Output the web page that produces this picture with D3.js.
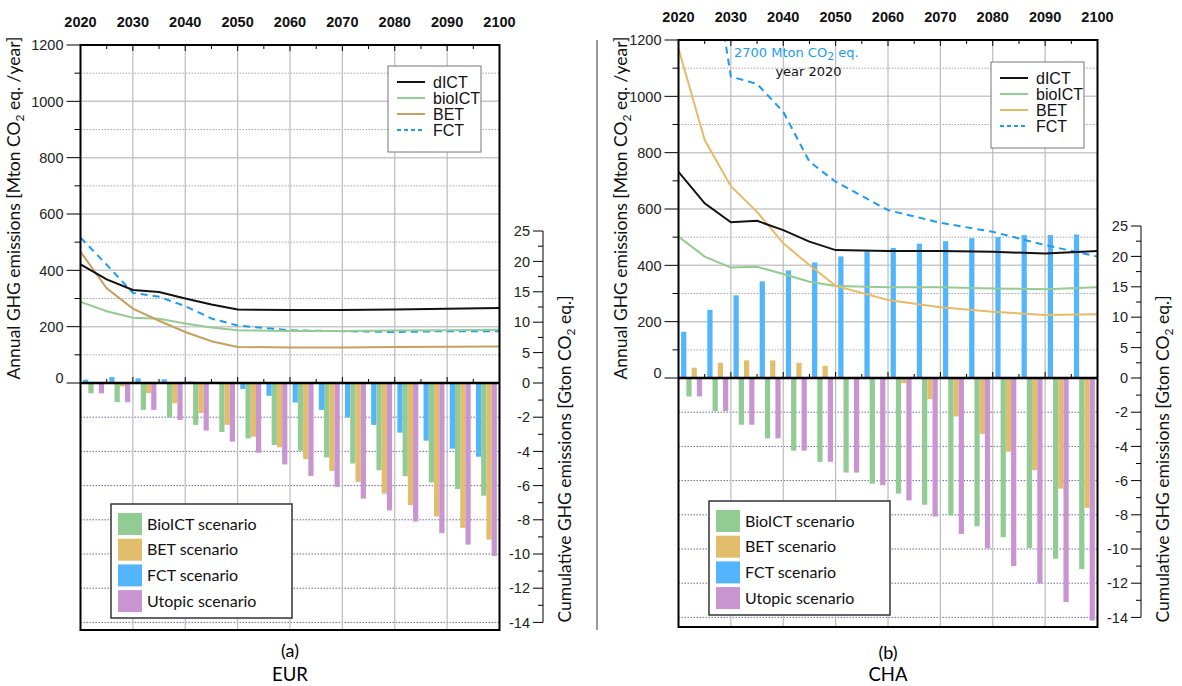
<!DOCTYPE html>
<html>
<head>
<meta charset="utf-8">
<script src="https://cdn.jsdelivr.net/npm/d3@7"></script>
<style>
  body { margin: 0; background: #fff; }
  text { font-family: "Liberation Sans", Arial, sans-serif; }
</style>
</head>
<body>
<svg id="chart" width="1182" height="686"></svg>
<script>
// annual emissions, Mton CO2 eq./year
var years = [2020, 2025, 2030, 2035, 2040, 2045, 2050, 2060, 2070, 2080, 2090, 2100];
var eurDICT   = [421, 368, 330, 323, 300, 279, 261, 259, 259, 261, 264, 266];
var eurBioICT = [288, 255, 232, 228, 211, 197, 187, 185, 185, 186, 187, 189];
var eurBET    = [466, 336, 264, 221, 181, 148, 128, 126, 126, 128, 129, 130];
var eurFCT    = [516, 420, 320, 306, 273, 229, 204, 187, 184, 181, 184, 184];
var chaDICT   = [732, 620, 553, 558, 525, 484, 454, 451, 451, 448, 442, 451];
var chaBioICT = [502, 431, 392, 395, 369, 342, 327, 322, 322, 318, 315, 322];
var chaBET    = [1170, 845, 681, 590, 478, 401, 327, 277, 251, 235, 224, 226];
var chaFCT    = [2700, 1660, 1070, 1044, 945, 768, 697, 596, 551, 519, 472, 431];

// cumulative emissions per 5-year period, Gton CO2 eq.
var periods = ["2025", "2030", "2035", "2040", "2045", "2050", "2055", "2060",
               "2065", "2070", "2075", "2080", "2085", "2090", "2095", "2100"];
var eurFctBars = [0.55, 1.0, 0.77, 0.6, 0.27, 0.05, -0.35, -0.75, -1.14, -1.57, -2.0, -2.45, -2.9, -3.37, -3.84, -4.31];
var eurBioBars = [-0.6, -1.12, -1.57, -2.02, -2.45, -2.86, -3.24, -3.63, -3.96, -4.35, -4.71, -5.1, -5.45, -5.82, -6.2, -6.59];
var eurBetBars = [-0.05, -0.2, -0.59, -1.18, -1.76, -2.45, -3.14, -3.76, -4.45, -5.14, -5.78, -6.47, -7.14, -7.8, -8.47, -9.16];
var eurUtoBars = [-0.6, -1.12, -1.57, -2.16, -2.78, -3.43, -4.08, -4.76, -5.43, -6.08, -6.76, -7.45, -8.1, -8.78, -9.45, -10.12];
var chaFctBars = [7.6, 11.2, 13.6, 15.9, 17.7, 19.0, 20.0, 20.8, 21.4, 22.1, 22.5, 23.0, 23.2, 23.5, 23.5, 23.6];
var chaBioBars = [-1.08, -1.94, -2.73, -3.53, -4.25, -4.9, -5.53, -6.18, -6.76, -7.41, -8.04, -8.67, -9.31, -9.94, -10.57, -11.18];
var chaBetBars = [1.7, 2.5, 2.9, 2.9, 2.5, 2.0, 0, 0, -0.3, -1.24, -2.25, -3.27, -4.31, -5.39, -6.47, -7.59];
var chaUtoBars = [-1.08, -1.94, -2.73, -3.53, -4.25, -4.9, -5.53, -6.27, -7.16, -8.1, -9.12, -9.96, -11.0, -12.02, -13.1, -14.18];

var decadeTicks = [2020, 2030, 2040, 2050, 2060, 2070, 2080, 2090, 2100];
var leftTicks = [0, 200, 400, 600, 800, 1000, 1200];
var rightPosTicks = [0, 5, 10, 15, 20, 25];
var rightNegTicks = [-2, -4, -6, -8, -10, -12, -14];
var lineNames = ["dICT", "bioICT", "BET", "FCT"];
var barNames = ["BioICT scenario", "BET scenario", "FCT scenario", "Utopic scenario"];

var colBio = "#93cb95", colBet = "#e2bd6b", colFct = "#53b5fb", colUto = "#c995d1";

var svg = d3.select("#chart");

function drawPanel(p) {
  var g = svg.append("g");
  var x = d3.scaleLinear().domain([2020, 2100]).range([p.left, p.right]);
  var yL = d3.scaleLinear().domain([0, 1200]).range([p.zero, p.top]);
  var yR = d3.scaleLinear().domain([-14, 0, 25])
    .range([p.zero + 14 * 17.1, p.zero, p.zero - 25 * 6.08]);

  var clipId = "clip-" + p.id;
  g.append("clipPath").attr("id", clipId).append("rect")
    .attr("x", p.left).attr("y", p.top)
    .attr("width", p.right - p.left).attr("height", p.bottom - p.top);

  // grid
  d3.range(100, 1200, 100).forEach(function(v) {
    g.append("line").attr("x1", p.left).attr("x2", p.right)
      .attr("y1", yL(v)).attr("y2", yL(v))
      .attr("stroke", v % 200 ? "#a8a8a8" : "#c8c8c8")
      .attr("stroke-width", v % 200 ? 1 : 1.5)
      .attr("stroke-dasharray", v % 200 ? "1.5,1.5" : null);
  });
  rightNegTicks.forEach(function(v) {
    g.append("line").attr("x1", p.left).attr("x2", p.right)
      .attr("y1", yR(v)).attr("y2", yR(v))
      .attr("stroke", "#6a6a9a").attr("stroke-dasharray", "1.5,1.5");
  });
  decadeTicks.slice(1, -1).forEach(function(d) {
    g.append("line").attr("x1", x(d)).attr("x2", x(d))
      .attr("y1", p.top).attr("y2", p.bottom)
      .attr("stroke", "#bcbcbc").attr("stroke-width", 1.2);
  });

  // bars
  var band = d3.scaleBand().domain(periods).range([p.left, p.right])
    .paddingInner(0.2).paddingOuter(0.1);
  var series = [
    {vals: p.fct, color: colFct},
    {vals: p.bio, color: colBio},
    {vals: p.bet, color: colBet},
    {vals: p.uto, color: colUto}
  ];
  var sub = d3.scaleBand().domain(d3.range(4)).range([0, band.bandwidth()]);
  series.forEach(function(s, si) {
    g.selectAll(null).data(s.vals).enter().append("rect")
      .attr("x", function(d, i) { return band(periods[i]) + sub(si); })
      .attr("width", sub.bandwidth())
      .attr("y", function(d) { return Math.min(yR(d), yR(0)); })
      .attr("height", function(d) { return Math.abs(yR(d) - yR(0)); })
      .attr("fill", s.color);
  });

  // lines
  var line = d3.line().x(function(d) { return x(d[0]); }).y(function(d) { return yL(d[1]); });
  var lines = [
    {vals: p.fctL, color: "#1c9cf0", width: 2, dash: "7,5"},
    {vals: p.bioL, color: "#93cb93", width: 2},
    {vals: p.betL, color: p.betColor, width: 2},
    {vals: p.dictL, color: "#111", width: 2}
  ];
  lines.forEach(function(l) {
    g.append("path").datum(d3.zip(years, l.vals))
      .attr("d", line).attr("fill", "none")
      .attr("stroke", l.color).attr("stroke-width", l.width)
      .attr("stroke-dasharray", l.dash || null)
      .attr("clip-path", "url(#" + clipId + ")");
  });

  // zero line and frame
  g.append("line").attr("x1", p.left).attr("x2", p.right)
    .attr("y1", p.zero).attr("y2", p.zero).attr("stroke", "#000").attr("stroke-width", 2.5);
  g.append("rect").attr("x", p.left).attr("y", p.top)
    .attr("width", p.right - p.left).attr("height", p.bottom - p.top)
    .attr("fill", "none").attr("stroke", "#000").attr("stroke-width", 2);

  // top axis
  d3.range(2020, 2101, 5).forEach(function(d) {
    var len = d % 10 ? 4 : 6;
    g.append("line").attr("x1", x(d)).attr("x2", x(d))
      .attr("y1", p.top).attr("y2", p.top + len).attr("stroke", "#000");
    g.append("line").attr("x1", x(d)).attr("x2", x(d))
      .attr("y1", p.zero).attr("y2", p.zero - len).attr("stroke", "#000");
  });
  g.selectAll(null).data(decadeTicks).enter().append("text")
    .attr("x", function(d) { return x(d); }).attr("y", p.top - 18)
    .attr("text-anchor", "middle").attr("font-size", 14.5).attr("font-weight", "bold")
    .attr("fill", "#111").text(function(d) { return d; });

  // left axis
  d3.range(0, 1201, 100).forEach(function(v) {
    g.append("line").attr("x1", p.left - (v % 200 ? 6 : 14)).attr("x2", p.left)
      .attr("y1", yL(v)).attr("y2", yL(v)).attr("stroke", "#000");
  });
  g.selectAll(null).data(leftTicks).enter().append("text")
    .attr("x", p.left - 17).attr("y", function(d) { return yL(d) - (d === 0 ? 5 : 0); })
    .attr("dy", "0.36em").attr("text-anchor", "end").attr("font-size", 14.5)
    .attr("fill", "#222").text(function(d) { return d; });

  // right axis
  var ax = p.right + 43.5;
  g.append("line").attr("x1", ax).attr("x2", ax)
    .attr("y1", yR(25)).attr("y2", yR(-14)).attr("stroke", "#000");
  d3.range(0, 25.1, 2.5).concat(d3.range(-1, -14.1, -1)).forEach(function(v) {
    var major = rightPosTicks.indexOf(v) >= 0 || rightNegTicks.indexOf(v) >= 0;
    g.append("line").attr("x1", ax - (major ? 10 : 5)).attr("x2", ax)
      .attr("y1", yR(v)).attr("y2", yR(v)).attr("stroke", "#000");
  });
  g.selectAll(null).data(rightPosTicks.concat(rightNegTicks)).enter().append("text")
    .attr("x", ax - 13).attr("y", function(d) { return yR(d); })
    .attr("dy", "0.36em").attr("text-anchor", "end").attr("font-size", 14.5)
    .attr("fill", "#222").text(function(d) { return d; });

  // axis titles
  var t1 = g.append("text").attr("transform", "translate(" + (p.left - p.titleGap) + "," + 208 + ") rotate(-90)")
    .attr("text-anchor", "middle").attr("dy", "0.35em")
    .style("font-family", "Lato, sans-serif").attr("font-size", 17.5).attr("fill", "#111");
  t1.append("tspan").text("Annual GHG emissions [Mton CO");
  t1.append("tspan").attr("font-size", 12).attr("dy", 4).text("2");
  t1.append("tspan").attr("dy", -4).text(" eq. /year]");

  var t2 = g.append("text").attr("transform", "translate(" + (p.right + 65) + "," + 459 + ") rotate(-90)")
    .attr("text-anchor", "middle").attr("dy", "0.35em")
    .style("font-family", "Lato, sans-serif").attr("font-size", 17.5).attr("fill", "#111");
  t2.append("tspan").text("Cumulative GHG emissions [Gton CO");
  t2.append("tspan").attr("font-size", 12).attr("dy", 4).text("2");
  t2.append("tspan").attr("dy", -4).text(" eq.]");

  // line legend
  var lg = g.append("g").attr("transform", "translate(" + p.lineLeg[0] + "," + p.lineLeg[1] + ")");
  lg.append("rect").attr("width", 93).attr("height", 86)
    .attr("fill", "#fff").attr("stroke", "#777");
  var legStyle = [
    {color: "#111", dash: null},
    {color: "#93cb93", dash: null},
    {color: p.betColor, dash: null},
    {color: "#1c9cf0", dash: "4,3"}
  ];
  lineNames.forEach(function(n, i) {
    var yy = 16 + i * 16;
    lg.append("line").attr("x1", 9).attr("x2", 37).attr("y1", yy).attr("y2", yy)
      .attr("stroke", legStyle[i].color).attr("stroke-width", 2)
      .attr("stroke-dasharray", legStyle[i].dash);
    lg.append("text").attr("x", 45).attr("y", yy).attr("dy", "0.36em")
      .attr("font-size", 16).attr("fill", "#111").text(n);
  });

  // bar legend
  var bg = g.append("g").attr("transform", "translate(" + p.barLeg[0] + "," + p.barLeg[1] + ")");
  bg.append("rect").attr("width", 181).attr("height", 114)
    .attr("fill", "#fff").attr("stroke", "#333").attr("stroke-width", 1.5);
  [colBio, colBet, colFct, colUto].forEach(function(c, i) {
    bg.append("rect").attr("x", 7).attr("y", 9 + i * 25.7).attr("width", 24).attr("height", 22).attr("fill", c);
    bg.append("text").attr("x", 36).attr("y", 20 + i * 25.7).attr("dy", "0.36em")
      .style("font-family", "Lato, sans-serif").attr("font-size", 16).attr("fill", "#111")
      .text(barNames[i]);
  });

  // caption
  var cx = (p.left + p.right) / 2;
  g.append("text").attr("x", cx).attr("y", p.capY).attr("text-anchor", "middle")
    .style("font-family", "Lato, sans-serif").attr("font-size", 18).text(p.letter);
  g.append("text").attr("x", cx).attr("y", 681).attr("text-anchor", "middle")
    .style("font-family", "Lato, sans-serif").attr("font-size", 18.5).text(p.region);

  return {x: x, yL: yL};
}

drawPanel({
  id: "eur", left: 80.5, right: 499.5, top: 45, zero: 383, bottom: 630, titleGap: 67,
  dictL: eurDICT, bioL: eurBioICT, betL: eurBET, fctL: eurFCT, betColor: "#c6a05e",
  fct: eurFctBars, bio: eurBioBars, bet: eurBetBars, uto: eurUtoBars,
  lineLeg: [388, 66], barLeg: [111, 504], capY: 657, letter: "(a)", region: "EUR"
});

var cha = drawPanel({
  id: "cha", left: 678.5, right: 1097.5, top: 40, zero: 378, bottom: 627, titleGap: 58,
  dictL: chaDICT, bioL: chaBioICT, betL: chaBET, fctL: chaFCT, betColor: "#e6bb66",
  fct: chaFctBars, bio: chaBioBars, bet: chaBetBars, uto: chaUtoBars,
  lineLeg: [991, 62], barLeg: [709, 501], capY: 659, letter: "(b)", region: "CHA"
});

// off-scale note for FCT in 2020
var note = svg.append("text").attr("x", cha.x(2030.6)).attr("y", 57)
  .style("font-family", "'DejaVu Sans', sans-serif").attr("font-size", 13).attr("fill", "#1c9cf0");
note.append("tspan").text("2700 Mton CO");
note.append("tspan").attr("font-size", 11).attr("dy", 3).text("2");
note.append("tspan").attr("dy", -3).text(" eq.");
svg.append("text").attr("x", cha.x(2038.5)).attr("y", 76)
  .style("font-family", "'DejaVu Sans', sans-serif").attr("font-size", 13).attr("fill", "#111")
  .text("year 2020");

// panel separator
svg.append("line").attr("x1", 597).attr("x2", 597).attr("y1", 40).attr("y2", 630)
  .attr("stroke", "#9a9a9a").attr("stroke-width", 2);
</script>
</body>
</html>
